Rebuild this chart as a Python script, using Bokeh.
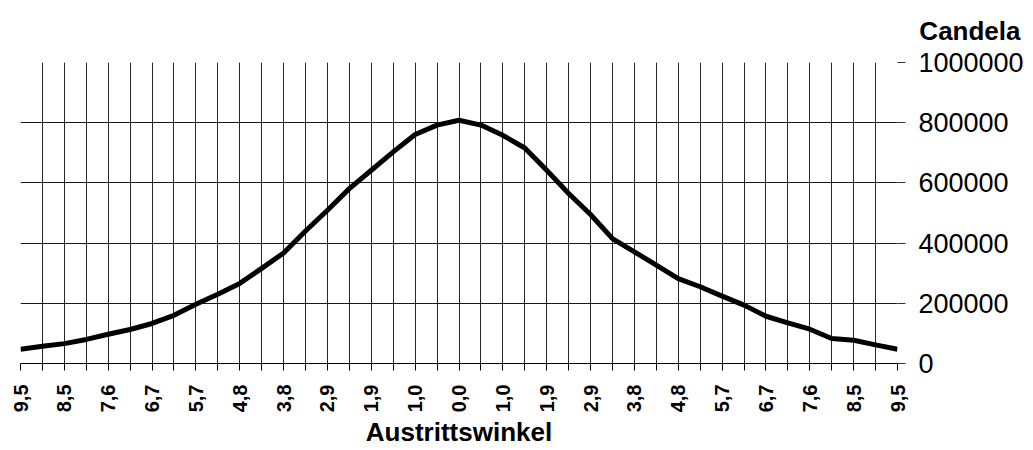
import math
from bokeh.plotting import figure
from bokeh.models import Range1d, FixedTicker, NumeralTickFormatter
from bokeh.embed import file_html
from bokeh.resources import INLINE

# Data (Austrittswinkel from 9,5 through 0,0 back to 9,5; every other point labelled)
angle_labels = ["9,5", "8,5", "7,6", "6,7", "5,7", "4,8", "3,8", "2,9", "1,9", "1,0", "0,0",
                "1,0", "1,9", "2,9", "3,8", "4,8", "5,7", "6,7", "7,6", "8,5", "9,5"]
candela = [47500, 57000, 66000, 80000, 97000, 113000, 133000, 160000, 197000, 230000,
           266000, 316000, 367000, 440000, 509000, 581000, 642000, 703000, 761000, 792000,
           808000, 792000, 758000, 716000, 642000, 565000, 495000, 415000, 371000, 327000,
           282000, 255000, 224000, 194000, 157000, 135000, 114000, 83000, 77000, 62000,
           47500]
y_ticks = [0, 200000, 400000, 600000, 800000, 1000000]

idx = list(range(len(candela)))
overrides = {}
for i in idx:
    overrides[i] = angle_labels[i // 2] if i % 2 == 0 else ""

FONT = "Liberation Sans"

p = figure(width=1033, height=450,
           x_range=Range1d(0, len(candela) - 1), y_range=Range1d(0, 1000000),
           y_axis_location="right", x_axis_location="below",
           output_backend="svg", toolbar_location=None,
           min_border_left=20, min_border_top=62, min_border_right=136, min_border_bottom=87)

p.background_fill_color = "white"
p.border_fill_color = "white"
p.outline_line_color = None

# title used as the right-hand unit label
p.title.text = "Candela"
p.title.align = "right"
p.title.vertical_align = "top"
p.title.offset = -123
p.title.standoff = 30
p.title.text_font = FONT
p.title.text_font_style = "bold"
p.title.text_font_size = "26px"
p.title.text_color = "black"

# x axis
p.xaxis.ticker = FixedTicker(ticks=idx)
p.xaxis.major_label_overrides = overrides
p.xaxis.major_label_orientation = math.pi / 2
p.xaxis.major_label_text_font = FONT
p.xaxis.major_label_text_font_style = "bold"
p.xaxis.major_label_text_font_size = "20px"
p.xaxis.major_label_text_color = "black"
p.xaxis.major_label_standoff = 14
p.xaxis.major_tick_out = 7
p.xaxis.major_tick_in = 0
p.xaxis.minor_tick_out = 0
p.xaxis.minor_tick_in = 0
p.xaxis.axis_line_color = "black"
p.xaxis.major_tick_line_color = "black"
p.xaxis.axis_label = "Austrittswinkel"
p.xaxis.axis_label_text_font = FONT
p.xaxis.axis_label_text_font_style = "bold"
p.xaxis.axis_label_text_font_size = "26px"
p.xaxis.axis_label_text_color = "black"
p.xaxis.axis_label_standoff = 2

# y axis (right)
p.yaxis.ticker = FixedTicker(ticks=y_ticks)
p.yaxis.formatter = NumeralTickFormatter(format="0")
p.yaxis.major_label_text_font = FONT
p.yaxis.major_label_text_font_size = "27px"
p.yaxis.major_label_text_color = "black"
p.yaxis.major_label_standoff = 13
p.yaxis.major_tick_out = 8
p.yaxis.major_tick_in = 0
p.yaxis.minor_tick_out = 0
p.yaxis.minor_tick_in = 0
p.yaxis.axis_line_color = None
p.yaxis.major_tick_line_color = "#333333"

# grids
p.xgrid.grid_line_color = "black"
p.xgrid.grid_line_alpha = 0.85
p.ygrid.grid_line_color = "black"
p.ygrid.grid_line_alpha = 0.9

p.line(idx, candela, line_width=5, line_color="black", line_join="round")

open("out.html", "w").write(file_html(p, INLINE))
